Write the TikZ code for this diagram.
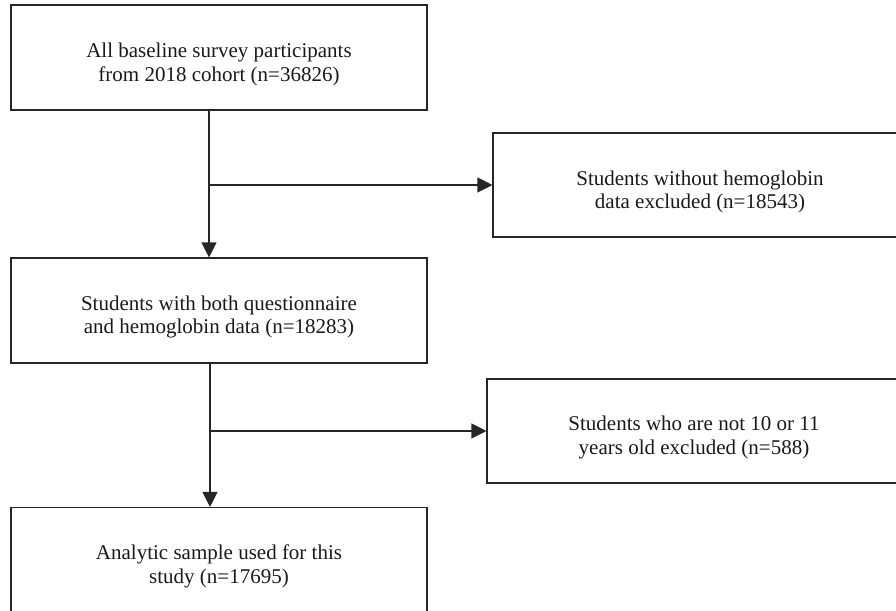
\documentclass[tikz,border=0pt]{standalone}
\usepackage{fontspec}
\setmainfont{Liberation Serif}
\usetikzlibrary{arrows.meta}
\newcommand{\dropline}{\rule{0pt}{28pt}}
\newcommand{\padr}{\hspace*{16pt}}
\begin{document}
\begin{tikzpicture}[x=1pt,y=-1pt,
  box/.style={draw=black!85, line width=1.1pt, minimum width=416pt, minimum height=105pt,
    align=center, inner sep=0pt, font=\fontsize{21pt}{23.5pt}\selectfont, text=black!90},
  sidebox/.style={box, minimum width=430pt, minimum height=104pt},
  conn/.style={draw=black!85, line width=1.1pt},
  arr/.style={conn, -{Triangle[length=15pt,width=15pt]}}]
\useasboundingbox (0,0) rectangle (896,610);
\clip (0,0) rectangle (896,610);
\node[box] (b1) at (219,57.5) {\dropline All baseline survey participants\\from 2018 cohort (n=36826)};
\node[sidebox] (b2) at (708,185) {\dropline Students without hemoglobin\padr\\data excluded (n=18543)\padr};
\node[box] (b3) at (219,310.5) {\dropline Students with both questionnaire\\and hemoglobin data (n=18283)};
\node[sidebox] (b4) at (702,431) {\dropline Students who are not 10 or 11\padr\\years old excluded (n=588)\padr};
\node[box] (b5) at (219,560) {\dropline Analytic sample used for this\\study (n=17695)};
\coordinate (v1) at (209,0);
\coordinate (v2) at (210,0);
\draw[arr] (b1.south -| v1) -- (b3.north -| v1);
\draw[arr] (v1 |- b2.west) -- (b2.west);
\draw[arr] (b3.south -| v2) -- (b5.north -| v2);
\draw[arr] (v2 |- b4.west) -- (b4.west);
\end{tikzpicture}
\end{document}
